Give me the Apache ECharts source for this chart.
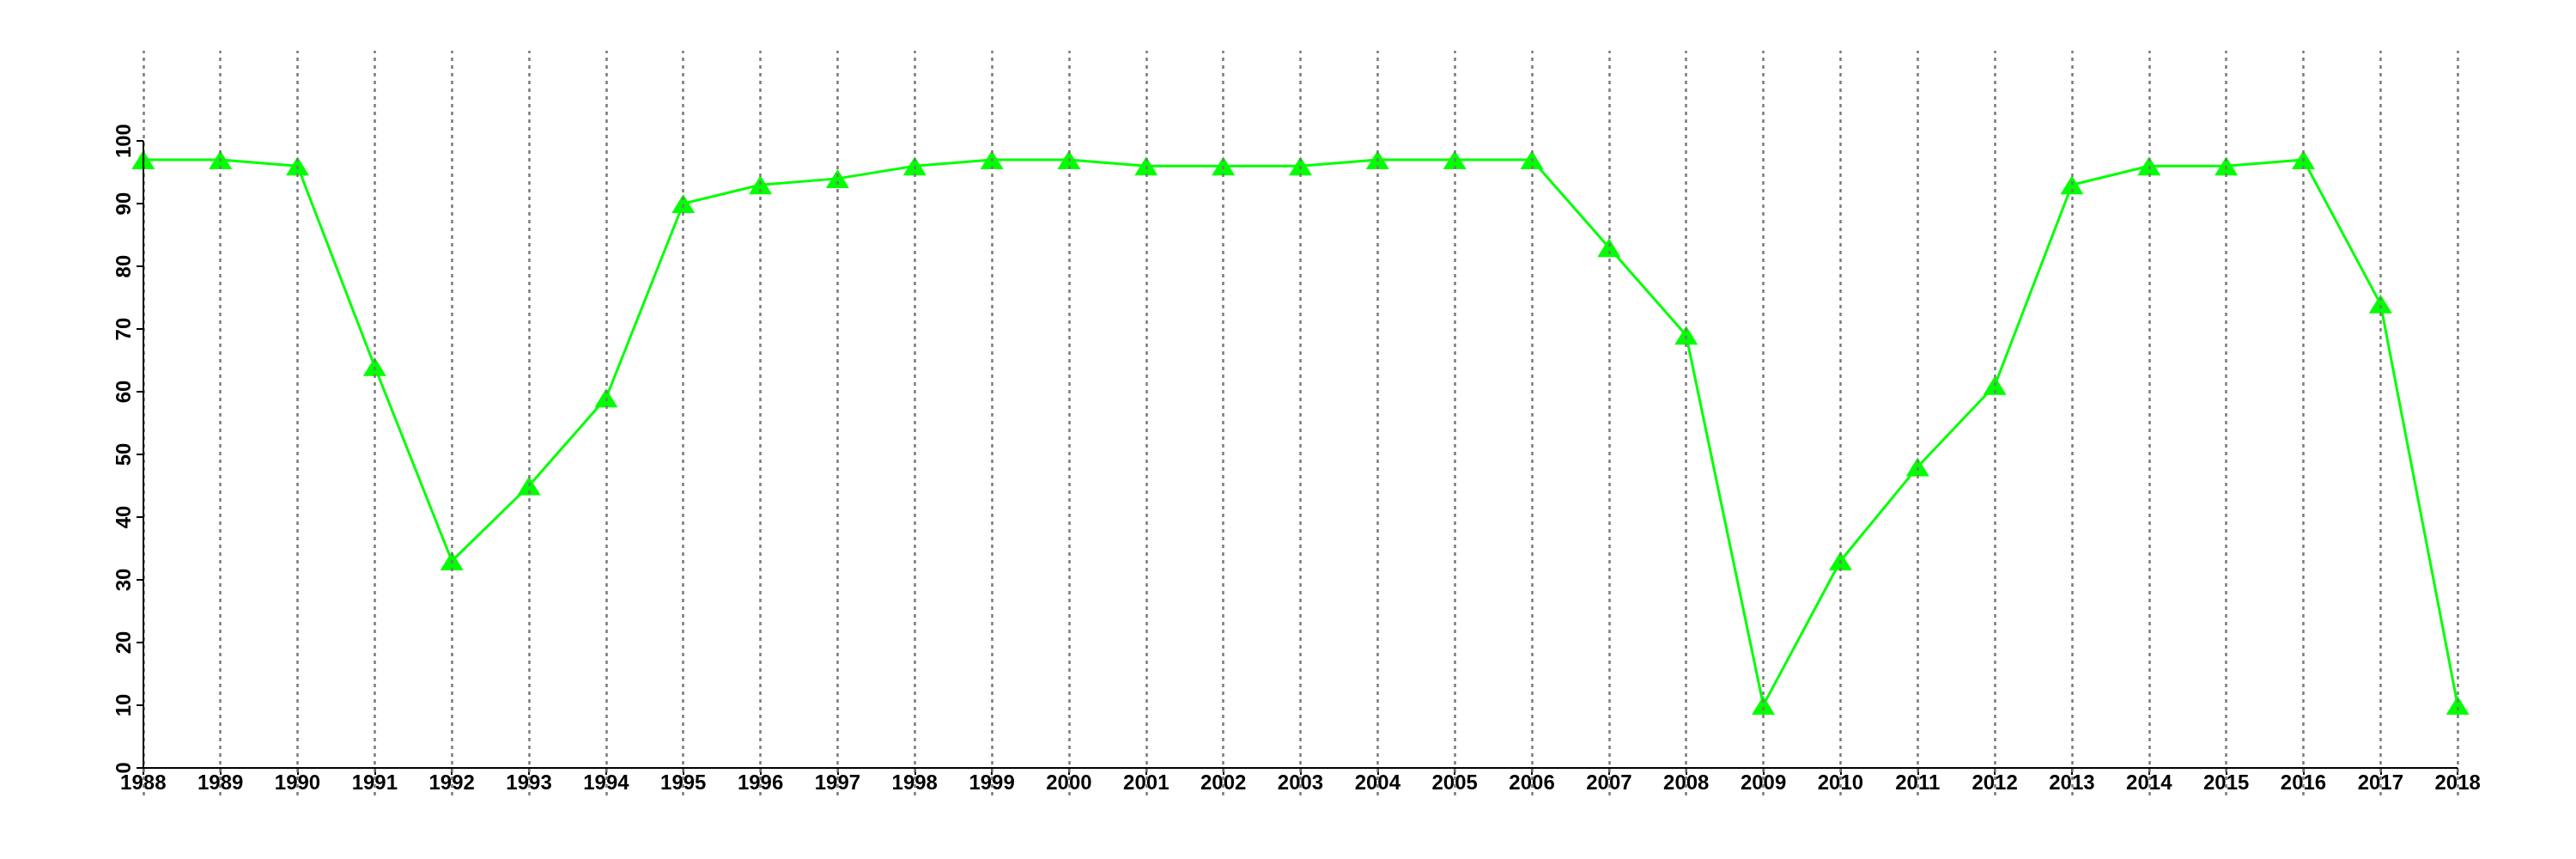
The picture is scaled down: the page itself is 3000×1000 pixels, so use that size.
<!DOCTYPE html>
<html><head><meta charset="utf-8">
<script src="https://cdn.jsdelivr.net/npm/echarts@6/dist/echarts.min.js"></script>
<style>html,body{margin:0;padding:0;background:#fff}#c{width:3000px;height:1000px}</style>
</head><body><div id="c"></div>
<script>
const years = [1988,1989,1990,1991,1992,1993,1994,1995,1996,1997,1998,1999,2000,2001,2002,2003,2004,2005,2006,2007,2008,2009,2010,2011,2012,2013,2014,2015,2016,2017,2018];
const values = [97,97,96,64,33,45,59,90,93,94,96,97,97,96,96,96,97,97,97,83,69,10,33,48,61,93,96,96,97,74,10];
const yTicks = [0,10,20,30,40,50,60,70,80,90,100];

const FONT = "'Liberation Sans', Arial, Helvetica, sans-serif";
const chart = echarts.init(document.getElementById('c'), null, {renderer:'canvas'});
const option = {
  animation: false,
  backgroundColor: '#ffffff',
  grid: {left: 59, right: 30, top: 59, bottom: 74, containLabel: false},
  xAxis: {
    type: 'value', min: 1986.8, max: 2019.2, position: 'bottom', offset: -32,
    axisLine: {show: false, onZero: false},
    axisTick: {show: true, customValues: years, length: 8, lineStyle: {color: '#000', width: 2}},
    axisLabel: {customValues: years, formatter: v => String(v), color: '#000', fontFamily: FONT, fontWeight: 'bold', fontSize: 24, margin: 6},
    splitLine: {show: false}
  },
  yAxis: {
    type: 'value', min: -4.4, max: 114.4, offset: -108,
    axisLine: {show: false, onZero: false},
    axisTick: {show: true, customValues: yTicks, length: 8, lineStyle: {color: '#000', width: 2}},
    axisLabel: {customValues: yTicks, formatter: v => String(v), rotate: 90, color: '#000', fontFamily: FONT, fontWeight: 'bold', fontSize: 24, margin: 10},
    splitLine: {show: false}
  },
  series: [
    {
      type: 'line', z: 2,
      data: years.map((y, i) => [y, values[i]]),
      symbol: 'triangle', symbolSize: [27, 22],
      itemStyle: {color: '#00ff00'},
      lineStyle: {color: '#00ff00', width: 3}
    },
    {
      type: 'line', z: 5, data: [],
      markLine: {
        silent: true, symbol: ['none', 'none'], label: {show: false},
        lineStyle: {type: [4, 5], color: '#7a7a7a', width: 2.5},
        data: years.map(y => ({xAxis: y}))
      }
    },
    {
      type: 'line', z: 4, data: [],
      markLine: {
        silent: true, symbol: ['none', 'none'], label: {show: false},
        lineStyle: {type: 'solid', color: '#000', width: 2},
        data: [
          [{coord: [years[0], yTicks[0]]}, {coord: [years[years.length - 1], yTicks[0]]}],
          [{coord: [years[0], yTicks[0]]}, {coord: [years[0], yTicks[yTicks.length - 1]]}]
        ]
      }
    }
  ]
};
chart.setOption(option);
</script>
</body></html>
